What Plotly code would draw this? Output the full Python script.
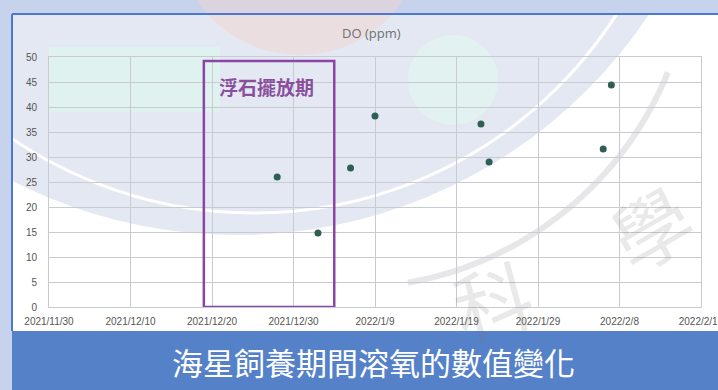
import math
import plotly.graph_objects as go

# ---------------- data ----------------
dates = ["2021-12-28", "2022-01-02", "2022-01-06", "2022-01-09",
         "2022-01-22", "2022-01-23", "2022-02-06", "2022-02-07"]
do_values = [26.0, 14.8, 27.8, 38.2, 36.6, 29.0, 31.6, 44.4]

x_tick_vals = ["2021-11-30", "2021-12-10", "2021-12-20", "2021-12-30", "2022-01-09",
               "2022-01-19", "2022-01-29", "2022-02-08", "2022-02-18"]
x_tick_text = ["2021/11/30", "2021/12/10", "2021/12/20", "2021/12/30", "2022/1/9",
               "2022/1/19", "2022/1/29", "2022/2/8", "2022/2/18"]
y_tick_vals = [0, 5, 10, 15, 20, 25, 30, 35, 40, 45, 50]

pumice_start = "2021-12-19"
pumice_end = "2022-01-04"
pumice_top = 49.2
pumice_label = "浮石擺放期"
chart_title = "DO (ppm)"
caption = "海星飼養期間溶氧的數值變化"

# ---------------- layout helpers ----------------
W, H = 718, 390


def px(x):
    return x / W


def py(y):
    return 1 - y / H


shapes = []


def rect(x0, y0, x1, y1, fill, opacity=1.0):
    shapes.append(dict(type="rect", xref="paper", yref="paper",
                       x0=px(x0), x1=px(x1), y0=py(y1), y1=py(y0),
                       fillcolor=fill, line=dict(width=0), layer="below", opacity=opacity))


def circle(cx, cy, r, fill=None, line=None, opacity=1.0):
    d = dict(type="circle", xref="paper", yref="paper",
             x0=px(cx - r), x1=px(cx + r), y0=py(cy + r), y1=py(cy - r),
             layer="below", opacity=opacity)
    d["fillcolor"] = fill if fill else "rgba(0,0,0,0)"
    d["line"] = line if line else dict(width=0)
    shapes.append(d)


def arc(cx, cy, r, a0, a1, color, width):
    pts = []
    n = 30
    for i in range(n + 1):
        a = math.radians(a0 + (a1 - a0) * i / n)
        pts.append((cx + r * math.cos(a), cy + r * math.sin(a)))
    path = "M " + " L ".join(f"{px(x):.5f},{py(y):.5f}" for x, y in pts)
    shapes.append(dict(type="path", xref="paper", yref="paper", path=path,
                       line=dict(color=color, width=width), layer="below"))


# background decorations (slide watermark)
rect(0, 0, W, H, "#FFFFFF")
circle(237, -260, 495, fill="#E4E8F2")
rect(49, 47, 220, 112, "#E0F2F0")
circle(453, 80, 45, fill="#E2F2F0")
circle(254, -217, 430, line=dict(color="#FFFFFF", width=3))
arc(348, -57, 345, 22, 80, "rgba(225,225,228,0.8)", 6)
rect(0, 0, W, 14, "#C7D3EC")
rect(0, 0, 12, H, "#C7D3EC")
circle(300, -70, 125, fill="#F4D3CB", opacity=0.45)
shapes.append(dict(type="line", xref="paper", yref="paper", x0=px(12), x1=px(W), y0=py(14), y1=py(14),
                   line=dict(color="#4D78D2", width=2), layer="below"))
shapes.append(dict(type="line", xref="paper", yref="paper", x0=px(12), x1=px(12), y0=py(14), y1=py(331),
                   line=dict(color="#4D78D2", width=2), layer="below"))
rect(12, 331, W, H, "#5581C9")

# pumice period box
shapes.append(dict(type="rect", xref="x", yref="y", x0=pumice_start, x1=pumice_end,
                   y0=0, y1=pumice_top, line=dict(color="#8B45A6", width=2.5),
                   fillcolor="rgba(0,0,0,0)", layer="above"))

fig = go.Figure()
fig.add_trace(go.Scatter(x=dates, y=do_values, mode="markers",
                         marker=dict(color="#2F5E55", size=7), showlegend=False,
                         hoverinfo="x+y"))

annotations = [
    dict(text="學", x=px(650), y=py(226), font=dict(size=78, color="rgba(120,120,120,0.16)",
         family="Noto Sans CJK TC"), textangle=-30),
    dict(text="科", x=px(492), y=py(298), font=dict(size=78, color="rgba(120,120,120,0.16)",
         family="Noto Sans CJK TC"), textangle=-15),
    dict(text=chart_title, x=px(372), y=py(33), font=dict(size=13, color="#707070",
         family="Open Sans")),
    dict(text="<b>" + pumice_label + "</b>", x=px(266), y=py(86),
         font=dict(size=19, color="#8A4E9E", family="Noto Sans CJK TC")),
    dict(text=caption, x=px(373), y=py(361),
         font=dict(size=31, color="#FFFFFF", family="Noto Sans CJK TC")),
]
for a in annotations:
    a.update(xref="paper", yref="paper", showarrow=False, xanchor="center", yanchor="middle")

grid = "#C9CBD2"
fig.update_layout(
    width=W, height=H,
    margin=dict(l=0, r=0, t=0, b=0),
    paper_bgcolor="#FFFFFF",
    plot_bgcolor="rgba(0,0,0,0)",
    shapes=shapes,
    annotations=annotations,
    xaxis=dict(type="date", range=["2021-11-30", "2022-02-18"], domain=[px(49), px(701)],
               tickvals=x_tick_vals, ticktext=x_tick_text, showgrid=True, gridcolor=grid,
               gridwidth=1, showline=True, linecolor=grid, mirror=True, zeroline=False,
               ticks="", automargin=False, ticklabelstandoff=5, ticklabeloverflow="allow",
               tickfont=dict(size=10, color="#555555", family="Liberation Sans")),
    yaxis=dict(range=[0, 50], domain=[py(307), py(57)], tickvals=y_tick_vals,
               showgrid=True, gridcolor=grid, gridwidth=1, showline=True, linecolor=grid,
               mirror=True, zeroline=False, ticks="", automargin=False, ticklabelstandoff=9,
               tickfont=dict(size=10, color="#555555", family="Liberation Sans")),
    font=dict(family="Liberation Sans"),
)

fig.write_html("out.html")
